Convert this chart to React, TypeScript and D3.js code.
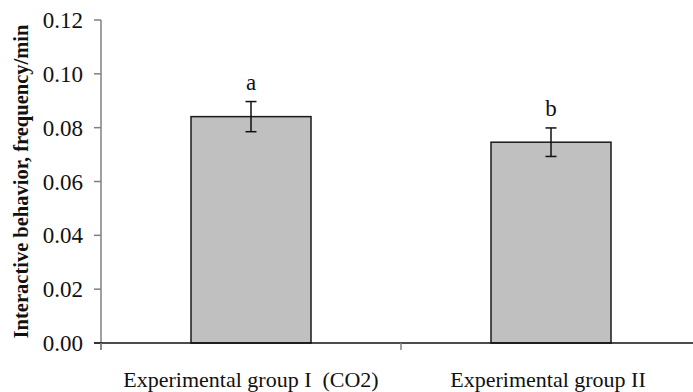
import { useEffect, useRef } from 'react'
import * as d3 from 'd3'

const categories = ['Experimental group I  (CO2)', 'Experimental group II']
const means = [0.0841, 0.0746]
const errors = [0.0056, 0.0053]
const letters = ['a', 'b']
const yTicks = [0, 0.02, 0.04, 0.06, 0.08, 0.1, 0.12]
const yTitle = 'Interactive behavior, frequency/min'

const FONT = '"Liberation Serif", "Times New Roman", serif'

export default function App() {
  const svgRef = useRef<SVGSVGElement | null>(null)

  useEffect(() => {
    const el = svgRef.current
    if (!el) return
    const svg = d3.select(el)
    svg.selectAll('*').remove()

    const x0 = 101
    const x1 = 701
    const yTop = 20
    const yBase = 343

    const x = d3.scaleBand<string>().domain(categories).range([x0, x1])
    const y = d3.scaleLinear().domain([0, 0.12]).range([yBase, yTop])
    const barW = x.bandwidth() * 0.4

    // bars
    svg
      .append('g')
      .selectAll('rect')
      .data(categories)
      .join('rect')
      .attr('x', (d) => x(d)! + (x.bandwidth() - barW) / 2)
      .attr('y', (_, i) => y(means[i]))
      .attr('width', barW)
      .attr('height', (_, i) => yBase - y(means[i]))
      .attr('fill', '#c0c0c0')
      .attr('stroke', '#1a1a1a')
      .attr('stroke-width', 1.5)

    // error bars + significance letters
    const eg = svg.append('g').attr('stroke', '#111').attr('stroke-width', 1.5)
    categories.forEach((c, i) => {
      const cx = x(c)! + x.bandwidth() / 2
      const top = y(means[i] + errors[i])
      const bot = y(means[i] - errors[i])
      eg.append('line').attr('x1', cx).attr('x2', cx).attr('y1', top).attr('y2', bot)
      eg.append('line').attr('x1', cx - 5.5).attr('x2', cx + 5.5).attr('y1', top).attr('y2', top)
      eg.append('line').attr('x1', cx - 5.5).attr('x2', cx + 5.5).attr('y1', bot).attr('y2', bot)
      svg
        .append('text')
        .attr('x', cx)
        .attr('y', top - 12)
        .attr('text-anchor', 'middle')
        .style('font-family', FONT)
        .attr('font-size', 23)
        .attr('fill', '#111')
        .text(letters[i])
    })

    // y axis
    const ya = svg.append('g')
    ya.append('line')
      .attr('x1', x0).attr('x2', x0)
      .attr('y1', yTop).attr('y2', yBase + 7)
      .attr('stroke', '#808080').attr('stroke-width', 1.5)
    yTicks.forEach((t) => {
      ya.append('line')
        .attr('x1', x0 - 7).attr('x2', x0)
        .attr('y1', y(t)).attr('y2', y(t))
        .attr('stroke', '#808080').attr('stroke-width', 1.5)
      ya.append('text')
        .attr('x', 83)
        .attr('y', y(t))
        .attr('dy', '0.35em')
        .attr('text-anchor', 'end')
        .style('font-family', FONT)
        .attr('font-size', 23)
        .attr('fill', '#111')
        .text(t.toFixed(2))
    })

    // x axis
    const xa = svg.append('g')
    xa.append('line')
      .attr('x1', x0 - 7).attr('x2', x1)
      .attr('y1', yBase).attr('y2', yBase)
      .attr('stroke', '#111').attr('stroke-width', 1.5)
    const bounds = [x0, x(categories[1])!, x1]
    bounds.forEach((b) => {
      xa.append('line')
        .attr('x1', b).attr('x2', b)
        .attr('y1', yBase).attr('y2', yBase + 7)
        .attr('stroke', '#808080').attr('stroke-width', 1.5)
    })
    categories.forEach((c, i) => {
      xa.append('text')
        .attr('x', x(c)! + x.bandwidth() / 2 - (i === 1 ? 3 : 0))
        .attr('y', 387)
        .attr('text-anchor', 'middle')
        .style('font-family', FONT)
        .style('white-space', 'pre')
        .attr('font-size', 22)
        .attr('fill', '#111')
        .text(c)
    })

    // y title
    svg
      .append('text')
      .attr('transform', `translate(28,${(yTop + yBase) / 2}) rotate(-90)`)
      .attr('text-anchor', 'middle')
      .style('font-family', FONT)
      .attr('font-size', 20.5)
      .attr('font-weight', 'bold')
      .attr('fill', '#111')
      .text(yTitle)
  }, [])

  return (
    <svg
      ref={svgRef}
      width={693}
      height={392}
      style={{ position: 'absolute', left: 0, top: 0, display: 'block', background: '#fff' }}
    />
  )
}
